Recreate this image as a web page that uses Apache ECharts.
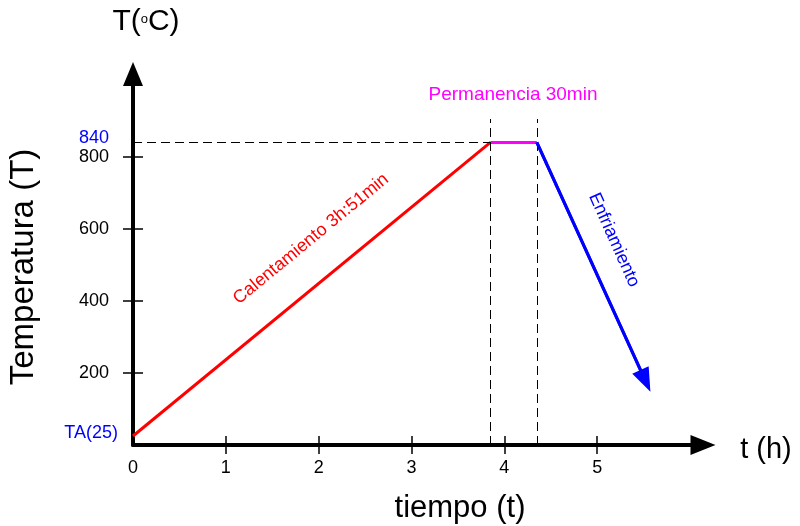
<!DOCTYPE html>
<html>
<head>
<meta charset="utf-8">
<script src="https://cdn.jsdelivr.net/npm/echarts@6/dist/echarts.min.js"></script>
<style>
  html, body { margin: 0; padding: 0; background: #fff; }
  #chart { width: 800px; height: 526px; }
</style>
</head>
<body>
<div id="chart"></div>
<script>
// Heat-treatment cycle: temperature (°C) against time (h)
const heating = [[0, 25], [3.85, 840]];      // Calentamiento 3h:51min
const holding = [[3.85, 840], [4.35, 840]];  // Permanencia 30min
const cooling = [[4.35, 840], [5.52, 178]];  // Enfriamiento
const holdStart = 3.85;
const holdEnd = 4.35;
const holdTemp = 840;
const guideTop = 905;

const xTickValues = [1, 2, 3, 4, 5];
const xLabelValues = [0, 1, 2, 3, 4, 5];
const yTickValues = [200, 400, 600, 800];
const yLabelValues = [25, 200, 400, 600, 800, 840];

const FONT = 'Arial, "Liberation Sans", sans-serif';
const X_MAX = 6.14;
const Y_MAX = 1030;

const chart = echarts.init(document.getElementById('chart'), null, { renderer: 'canvas' });

const axisBase = {
  type: 'value',
  splitLine: { show: false }
};

chart.setOption({
  animation: false,
  backgroundColor: '#ffffff',
  grid: { left: 133, right: 97, top: 74, bottom: 81, containLabel: false, outerBoundsMode: 'none' },
  xAxis: [
    Object.assign({}, axisBase, {
      min: 0, max: X_MAX, position: 'bottom',
      axisLine: { show: true, onZero: false, symbol: ['none', 'triangle'], symbolSize: [20, 25],
        lineStyle: { color: '#000', width: 4 } },
      axisTick: { show: true, inside: false, length: 9, customValues: xTickValues,
        lineStyle: { color: '#000', width: 1.5 } },
      axisLabel: { show: true, customValues: xLabelValues, fontFamily: FONT, fontSize: 18,
        color: '#000', margin: 14 }
    }),
    Object.assign({}, axisBase, {
      min: 0, max: X_MAX, position: 'bottom',
      axisLine: { show: false },
      axisTick: { show: true, inside: true, length: 9, customValues: xTickValues,
        lineStyle: { color: '#000', width: 1.5 } },
      axisLabel: { show: false }
    })
  ],
  yAxis: [
    Object.assign({}, axisBase, {
      min: 0, max: Y_MAX, position: 'left',
      axisLine: { show: true, onZero: false, symbol: ['none', 'triangle'], symbolSize: [20, 24],
        lineStyle: { color: '#000', width: 4 } },
      axisTick: { show: true, inside: false, length: 10, customValues: yTickValues,
        lineStyle: { color: '#000', width: 1.5 } },
      axisLabel: {
        show: true, customValues: yLabelValues, margin: 15,
        formatter: function (v) {
          if (v === 25) return '{ta|TA(25)}';
          if (v === holdTemp) return '{hot|' + v + '}';
          return '{n|' + v + '}';
        },
        rich: {
          n: { fontFamily: FONT, fontSize: 18, color: '#000', padding: [0, 9, 0, 0] },
          hot: { fontFamily: FONT, fontSize: 18, color: '#0000ff', padding: [0, 9, 8, 0] },
          ta: { fontFamily: FONT, fontSize: 18, color: '#0000ff', padding: [0, 0, 6, 0] }
        }
      }
    }),
    Object.assign({}, axisBase, {
      min: 0, max: Y_MAX, position: 'left',
      axisLine: { show: false },
      axisTick: { show: true, inside: true, length: 10, customValues: yTickValues,
        lineStyle: { color: '#000', width: 1.5 } },
      axisLabel: { show: false }
    })
  ],
  series: [
    {
      name: 'Calentamiento', type: 'line', xAxisIndex: 0, yAxisIndex: 0,
      data: heating, showSymbol: false, silent: true,
      lineStyle: { color: '#ff0000', width: 3 },
      markLine: {
        silent: true, symbol: 'none', label: { show: false },
        lineStyle: { color: '#000', width: 1, type: [9, 5] },
        data: [
          [{ coord: [0, holdTemp] }, { coord: [holdStart, holdTemp] }],
          [{ coord: [holdStart, 0] }, { coord: [holdStart, guideTop] }],
          [{ coord: [holdEnd, 0] }, { coord: [holdEnd, guideTop] }]
        ]
      },
      z: 3
    },
    {
      name: 'Permanencia', type: 'line', xAxisIndex: 0, yAxisIndex: 0,
      data: holding, showSymbol: false, silent: true,
      lineStyle: { color: '#ff00ff', width: 3 }, z: 4
    },
    {
      name: 'Enfriamiento', type: 'line', xAxisIndex: 0, yAxisIndex: 0,
      data: cooling, showSymbol: false, silent: true,
      lineStyle: { color: '#0000ff', width: 3 },
      markLine: {
        silent: true, symbol: ['none', 'triangle'], symbolSize: [18, 24],
        label: { show: false },
        lineStyle: { color: '#0000ff', width: 3, type: 'solid' },
        data: [[{ coord: cooling[0] }, { coord: cooling[1] }]]
      },
      z: 4
    }
  ],
  graphic: [
    {
      type: 'text', x: 146, y: 22,
      style: {
        text: '{a|T(}{o|o}{a|C)}', align: 'center', verticalAlign: 'middle',
        rich: {
          a: { fontFamily: FONT, fontSize: 30, fill: '#000', verticalAlign: 'middle' },
          o: { fontFamily: FONT, fontSize: 13, fill: '#000', verticalAlign: 'middle', padding: [0, 0, 5, 0] }
        }
      }
    },
    {
      type: 'text', x: 24, y: 267, rotation: Math.PI / 2,
      style: { text: 'Temperatura (T)', fontFamily: FONT, fontSize: 33, fill: '#000',
        align: 'center', verticalAlign: 'middle' }
    },
    {
      type: 'text', x: 460, y: 508,
      style: { text: 'tiempo (t)', fontFamily: FONT, fontSize: 31, fill: '#000',
        align: 'center', verticalAlign: 'middle' }
    },
    {
      type: 'text', x: 766, y: 450,
      style: { text: 't (h)', fontFamily: FONT, fontSize: 29, fill: '#000',
        align: 'center', verticalAlign: 'middle' }
    },
    {
      type: 'text', x: 513, y: 95,
      style: { text: 'Permanencia 30min', fontFamily: FONT, fontSize: 19, fill: '#ff00ff',
        align: 'center', verticalAlign: 'middle' }
    },
    {
      type: 'text', x: 311, y: 239, rotation: 39.4 * Math.PI / 180,
      style: { text: 'Calentamiento 3h:51min', fontFamily: FONT, fontSize: 18, fill: '#ff0000',
        align: 'center', verticalAlign: 'middle' }
    },
    {
      type: 'text', x: 614, y: 240, rotation: -65.9 * Math.PI / 180,
      style: { text: 'Enfriamiento', fontFamily: FONT, fontSize: 18, fill: '#0000ff',
        align: 'center', verticalAlign: 'middle' }
    }
  ]
});
</script>
</body>
</html>
